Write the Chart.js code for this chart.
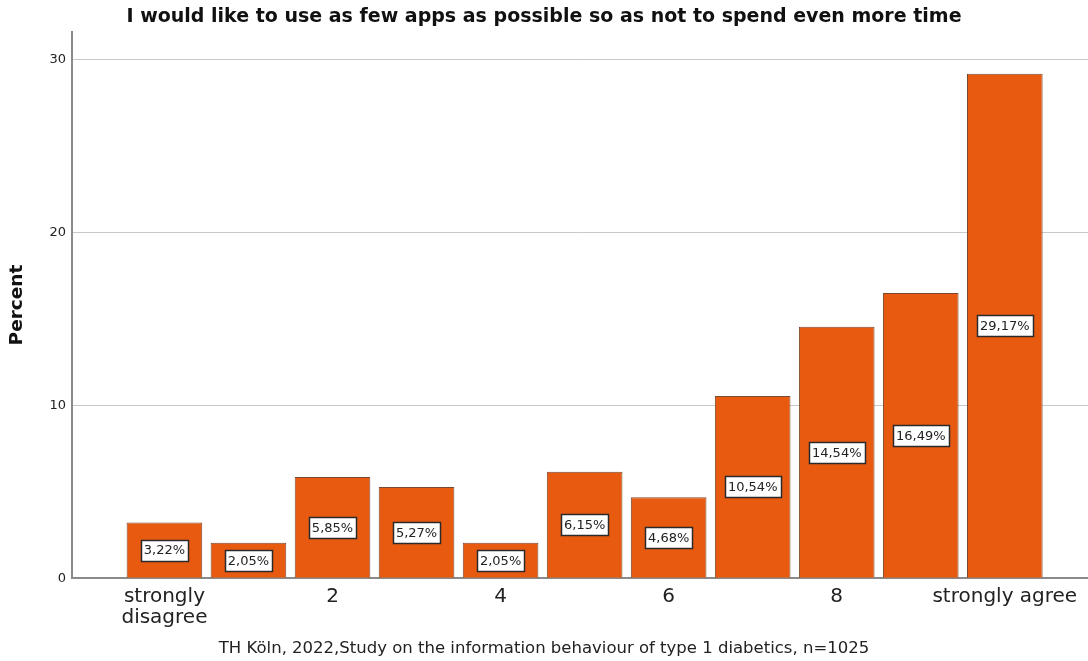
<!DOCTYPE html>
<html lang="en">
<head>
  <meta charset="UTF-8" />
  <title>Few apps as possible</title>
  <script src="https://cdn.jsdelivr.net/npm/chart.js"></script>
  <style>
    html, body {
      margin: 0;
      padding: 0;
      background: #ffffff;
    }
    #wrap {
      width: 1088px;
      height: 661px;
      position: relative;
    }
  </style>
</head>
<body>
  <div id="wrap"><canvas id="chart"></canvas></div>

  <script>
    // answer scale 0..10, percent of respondents
    const positions = [0, 1, 2, 3, 4, 5, 6, 7, 8, 9, 10];
    const percents = [3.22, 2.05, 5.85, 5.27, 2.05, 6.15, 4.68, 10.54, 14.54, 16.49, 29.17];
    const xTicks = [0, 2, 4, 6, 8, 10];
    const xTickLabels = { 0: ['strongly', 'disagree'], 2: '2', 4: '4', 6: '6', 8: '8', 10: 'strongly agree' };
    const yTicks = [0, 10, 20, 30];

    const FONT = "'DejaVu Sans', sans-serif";

    // white value boxes in the middle of each bar
    const valueBoxes = {
      id: 'valueBoxes',
      afterDatasetsDraw(chart) {
        const ctx = chart.ctx;
        const meta = chart.getDatasetMeta(0);
        ctx.save();
        ctx.font = '13px ' + FONT;
        ctx.textAlign = 'center';
        ctx.textBaseline = 'middle';
        meta.data.forEach((bar, i) => {
          const txt = percents[i].toFixed(2).replace('.', ',') + '%';
          const cy = (bar.y + bar.base) / 2;
          const w = Math.round(ctx.measureText(txt).width + 6);
          const h = 21;
          const x0 = Math.round(bar.x - w / 2) + 0.5;
          const y0 = Math.round(cy - h / 2) + 0.5;
          ctx.fillStyle = '#ffffff';
          ctx.fillRect(x0, y0, w, h);
          ctx.strokeStyle = '#2a2a2a';
          ctx.lineWidth = 1.5;
          ctx.strokeRect(x0, y0, w, h);
          ctx.fillStyle = '#222222';
          ctx.fillText(txt, bar.x, cy + 1);
        });
        ctx.restore();
      }
    };

    new Chart(document.getElementById('chart'), {
      type: 'bar',
      data: {
        datasets: [{
          label: 'Percent',
          data: positions.map((p, i) => ({ x: p, y: percents[i] })),
          backgroundColor: '#e85a10',
          borderColor: '#7a4a30',
          borderWidth: 1,
          barPercentage: 0.9,
          categoryPercentage: 1.0
        }]
      },
      options: {
        responsive: true,
        maintainAspectRatio: false,
        animation: false,
        layout: { padding: { left: 0, right: 0, top: 0, bottom: 0 } },
        plugins: {
          legend: { display: false },
          tooltip: { enabled: false },
          title: {
            display: true,
            text: 'I would like to use as few apps as possible so as not to spend even more time',
            color: '#111111',
            font: { family: FONT, size: 19, weight: 'bold' },
            padding: { top: 6, bottom: 3 }
          },
          subtitle: {
            display: true,
            position: 'bottom',
            text: 'TH Köln, 2022,Study on the information behaviour of type 1 diabetics, n=1025',
            color: '#222222',
            font: { family: FONT, size: 16.5 },
            padding: { top: 0, bottom: 2 }
          }
        },
        scales: {
          x: {
            type: 'linear',
            offset: false,
            min: -1.1,
            max: 10.99,
            afterBuildTicks: s => { s.ticks = xTicks.map(v => ({ value: v })); },
            afterFit: s => { s.height = 61; },
            grid: { display: false, drawTicks: false },
            border: { color: '#8a8a8a', width: 2 },
            ticks: {
              color: '#222222',
              font: { family: FONT, size: 20, lineHeight: 1.05 },
              padding: 8,
              maxRotation: 0,
              autoSkip: false,
              callback: v => xTickLabels[v]
            }
          },
          y: {
            min: 0,
            max: 31.6,
            afterBuildTicks: s => { s.ticks = yTicks.map(v => ({ value: v })); },
            afterFit: s => { s.width = 72; },
            grid: { color: '#c8c8c8', drawTicks: false },
            border: { color: '#8a8a8a', width: 2 },
            ticks: {
              color: '#222222',
              font: { family: FONT, size: 13 },
              padding: 6
            },
            title: {
              display: true,
              text: 'Percent',
              color: '#111111',
              font: { family: FONT, size: 18.5, weight: 'bold' },
              padding: { top: 6, bottom: 0 }
            }
          }
        }
      },
      plugins: [valueBoxes]
    });
  </script>
</body>
</html>
